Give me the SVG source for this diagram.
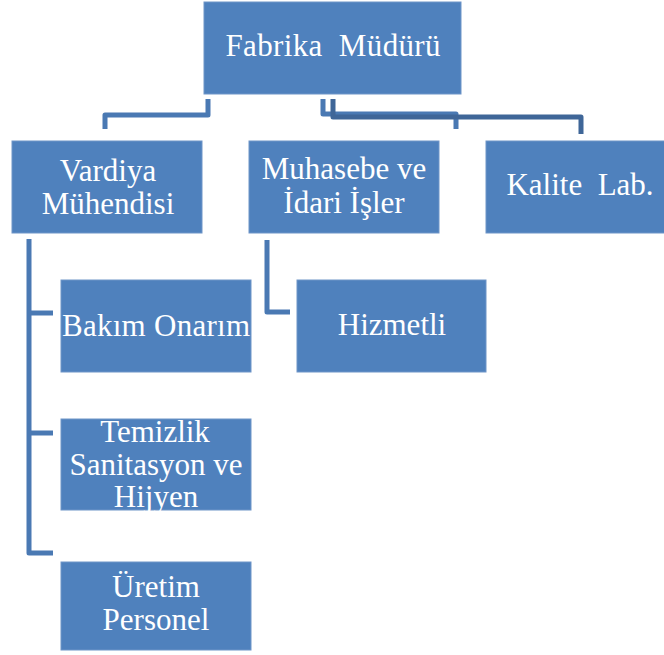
<svg xmlns="http://www.w3.org/2000/svg" width="664" height="655" viewBox="0 0 664 655">
  <style>
    .box { fill: #4F81BD; stroke: #6F95C8; stroke-width: 1; }
    .lbl { font-family: 'Liberation Serif', 'DejaVu Serif', serif; font-size: 31px; fill: #FFFFFF; text-anchor: middle; }
    .wire { fill: none; stroke: #4A79B3; stroke-width: 5; stroke-linejoin: round; }
    .wire2 { fill: none; stroke: #3F6698; stroke-width: 5; stroke-linejoin: round; }
  </style>
  <rect width="664" height="655" fill="#FFFFFF"/>

  <!-- connectors -->
  <g id="connectors">
    <path class="wire" d="M208,99 V115 H105 V129"/>
    <path class="wire" d="M323,99 V114 H456 V129"/>
    <path class="wire2" d="M333,99 V117 H581 V134"/>
    <path class="wire" d="M29,239 V553 H53"/>
    <path class="wire" d="M29,313 H53"/>
    <path class="wire" d="M29,433 H53"/>
    <path class="wire" d="M267,240 V312 H290"/>
  </g>

  <g id="fabrika-muduru">
    <rect class="box" x="204" y="2" width="257" height="92"/>
    <text class="lbl" x="333" y="56" textLength="215" xml:space="preserve">Fabrika  Müdürü</text>
  </g>

  <g id="vardiya-muhendisi">
    <rect class="box" x="12" y="141" width="190" height="92"/>
    <text class="lbl" x="108" y="181">Vardiya</text>
    <text class="lbl" x="108" y="214">Mühendisi</text>
  </g>

  <g id="muhasebe-idari-isler">
    <rect class="box" x="249" y="141" width="190" height="92"/>
    <text class="lbl" x="344" y="179" xml:space="preserve">Muhasebe ve</text>
    <text class="lbl" x="344" y="213">İdari İşler</text>
  </g>

  <g id="kalite-lab">
    <rect class="box" x="486" y="141" width="180" height="92"/>
    <text class="lbl" x="580" y="195" xml:space="preserve">Kalite  Lab.</text>
  </g>

  <g id="bakim-onarim">
    <rect class="box" x="61" y="280" width="190" height="92"/>
    <text class="lbl" x="156" y="336" textLength="188">Bakım Onarım</text>
  </g>

  <g id="hizmetli">
    <rect class="box" x="297" y="280" width="189" height="92"/>
    <text class="lbl" x="392" y="335">Hizmetli</text>
  </g>

  <g id="temizlik-sanitasyon-hijyen">
    <rect class="box" x="61" y="419" width="190" height="91"/>
    <text class="lbl" x="155" y="442">Temizlik</text>
    <text class="lbl" x="156" y="475" xml:space="preserve">Sanitasyon ve</text>
    <text class="lbl" x="156" y="507">Hijyen</text>
  </g>

  <g id="uretim-personel">
    <rect class="box" x="61" y="562" width="190" height="88"/>
    <text class="lbl" x="156" y="597">Üretim</text>
    <text class="lbl" x="156" y="630">Personel</text>
  </g>
</svg>
